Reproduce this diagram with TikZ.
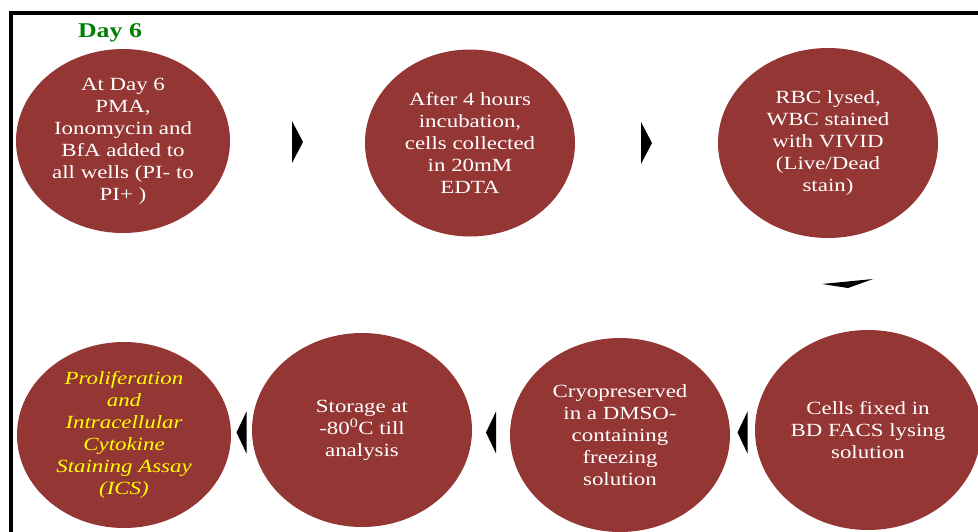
\documentclass[tikz,border=0pt]{standalone}
\usepackage{fontspec}
\usepackage{xcolor}
\usepackage{tikz}
\usetikzlibrary{shapes.geometric,calc}

\newfontfamily\stepfont[FakeStretch = 1.23]{Liberation Serif}

\definecolor{stepred}{RGB}{148,54,52}
\definecolor{daygreen}{RGB}{0,128,0}
\definecolor{icsyellow}{RGB}{255,255,0}

\begin{document}
\begin{tikzpicture}[x = 1pt, y = -1pt,
    stepcirc/.style = {ellipse, fill = stepred, draw = none, inner sep = 0pt, align = center, text = white,
        minimum width = 216pt, minimum height = 188pt,
        font = {\stepfont\fontsize{18.6}{22}\selectfont}}]

    \useasboundingbox (0, 0) rectangle (978, 531);
    \clip (0, 0) rectangle (978, 531);

    \draw [line width = 4pt] (10.5, 13) rectangle (1010, 560);

    \node[anchor = base, text = daygreen, font = {\stepfont\fontsize{21}{24}\selectfont\bfseries}] (day) at (110, 37) {Day 6};

    % top row
    \node[stepcirc, minimum width = 214pt, minimum height = 184pt] (c1) at (123, 141) {At Day 6\\PMA,\\Ionomycin and\\BfA added to\\all wells (PI- to\\PI+ )};
    \node[stepcirc, minimum width = 210pt, minimum height = 187pt] (c2) at (470, 143) {After 4 hours\\incubation,\\cells collected\\in 20mM\\EDTA};
    \node[stepcirc, minimum width = 220pt, minimum height = 190pt] (c3) at (828, 143) {RBC lysed,\\WBC stained\\with VIVID\\(Live/Dead\\stain)};

    % bottom row
    \node[stepcirc, minimum width = 226pt, minimum height = 200pt] (c7) at (868, 430) {Cells fixed in\\BD FACS lysing\\solution};
    \node[stepcirc, minimum width = 220pt, minimum height = 194pt] (c6) at (620, 435) {Cryopreserved\\in a DMSO-\\containing\\freezing\\solution};
    \node[stepcirc, minimum width = 220pt, minimum height = 194pt] (c5) at (362, 430) {Storage at\\-80\textsuperscript{0}C till\\analysis};
    \node[stepcirc, minimum width = 214pt, minimum height = 186pt, text = icsyellow, font = {\stepfont\fontsize{18.6}{22}\selectfont\itshape}] (c4) at (124, 435) {Proliferation\\and\\Intracellular\\Cytokine\\Staining Assay\\(ICS)};

    % arrow heads between the steps
    \coordinate (a12) at ($(c1.east)!0.5!(c2.west)$);
    \coordinate (a23) at ($(c2.east)!0.5!(c3.west)$);
    \coordinate (a37) at ($(c3.south)!0.5!(c7.north)$);
    \coordinate (a76) at ($(c7.west)!0.5!(c6.east)$);
    \coordinate (a65) at ($(c6.west)!0.5!(c5.east)$);
    \coordinate (a54) at ($(c5.west)!0.5!(c4.east)$);

    \fill [black] (a12) ++(-5.5, -21) -- ++(11, 21) -- ++(-11, 21) -- cycle;
    \fill [black] (a23) ++(-5.5, -21) -- ++(11, 21) -- ++(-11, 21) -- cycle;
    \fill [black] (a37) ++(-26, 0) -- ++(51, -5) -- ++(-25, 9) -- cycle;
    \fill [black] (a76) ++(5, -21) -- ++(-10, 21) -- ++(10, 21) -- cycle;
    \fill [black] (a65) ++(5, -21) -- ++(-10, 21) -- ++(10, 21) -- cycle;
    \fill [black] (a54) ++(5, -21) -- ++(-10, 21) -- ++(10, 21) -- cycle;

\end{tikzpicture}
\end{document}
